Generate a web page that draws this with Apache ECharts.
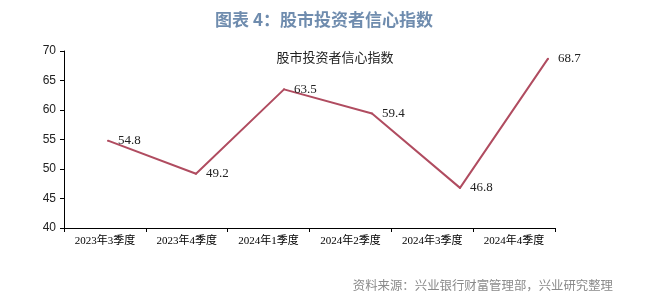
<!DOCTYPE html>
<html><head><meta charset="utf-8">
<script src="https://cdn.jsdelivr.net/npm/echarts@6/dist/echarts.min.js"></script>
<style>html,body{margin:0;padding:0;background:#fff}#c{width:658px;height:298px}</style>
</head><body><div id="c"></div>
<script>
const categories = ['2023年3季度','2023年4季度','2024年1季度','2024年2季度','2024年3季度','2024年4季度'];
const values = [54.8, 49.2, 63.5, 59.4, 46.8, 68.7];
const yTicks = [40, 45, 50, 55, 60, 65, 70];

const chart = echarts.init(document.getElementById('c'));
const serif = '"Liberation Serif","Times New Roman","Noto Sans CJK SC",serif';
chart.setOption({
  animation: false,
  title: [
    {text: '图表 4：股市投资者信心指数', left: 319, top: 6, textAlign: 'center',
     textStyle: {fontSize: 17, fontWeight: 'bold', color: '#6f8cae', fontFamily: '"Noto Sans CJK SC",sans-serif'}},
    {text: '股市投资者信心指数', left: 330, top: 47, textAlign: 'center',
     textStyle: {fontSize: 13, fontWeight: 'normal', color: '#222', fontFamily: serif}},
    {text: '资料来源：兴业银行财富管理部，兴业研究整理', right: 40, top: 274,
     textStyle: {fontSize: 12.4, fontWeight: 'normal', color: '#8a8a8a', fontFamily: '"Noto Sans CJK SC",sans-serif'}}
  ],
  grid: [
    {left: 64, right: 103, top: 51, bottom: 70},
    {left: 108, right: 110, top: 51, bottom: 70}
  ],
  xAxis: [
    {type: 'category', gridIndex: 0, data: categories, boundaryGap: true,
     axisLine: {lineStyle: {color: '#000', width: 1}},
     axisTick: {show: true, length: 4, lineStyle: {color: '#000'}},
     axisLabel: {fontSize: 11, color: '#000', fontFamily: serif, margin: 8}},
    {type: 'category', gridIndex: 1, data: categories, boundaryGap: false, show: false}
  ],
  yAxis: [
    {type: 'value', gridIndex: 0, min: 40, max: 70, interval: 5,
     axisLine: {show: true, lineStyle: {color: '#000'}},
     axisTick: {show: true, length: 4, lineStyle: {color: '#000'}},
     splitLine: {show: false},
     axisLabel: {fontSize: 12, color: '#222', fontFamily: '"Liberation Sans",Arial,sans-serif', margin: 8,
       formatter: v => yTicks.includes(v) ? String(v) : ''}},
    {type: 'value', gridIndex: 1, min: 40, max: 70, show: false, splitLine: {show: false}}
  ],
  series: [{
    type: 'line', xAxisIndex: 1, yAxisIndex: 1, data: values,
    symbol: 'circle', symbolSize: 2, showSymbol: true, showAllSymbol: true,
    itemStyle: {color: '#b04c60'},
    lineStyle: {color: '#b04c60', width: 2},
    label: {show: true, position: 'right', distance: 9, fontSize: 13, color: '#222', fontFamily: serif}
  }]
});
</script></body></html>
